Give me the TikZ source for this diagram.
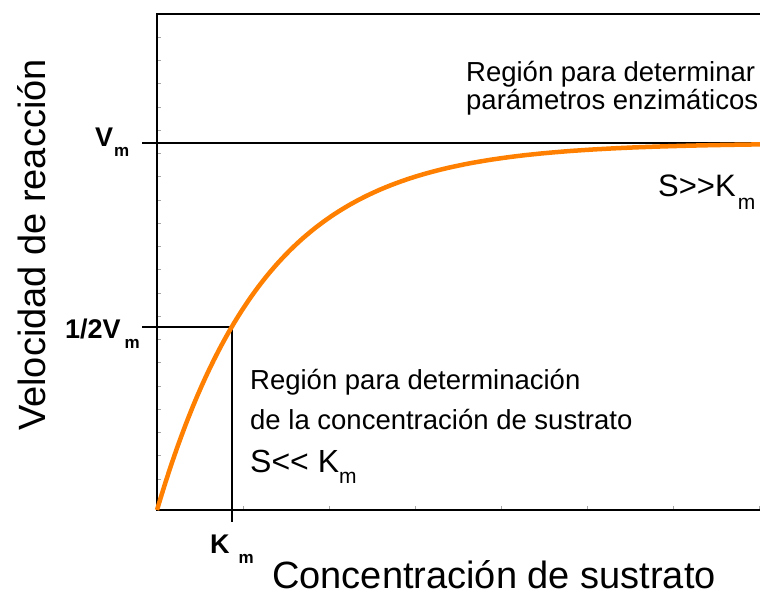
\documentclass[tikz,border=0pt]{standalone}
\usepackage{fontspec}
\setmainfont{Liberation Sans}
\definecolor{naranja}{RGB}{255,128,0}
\begin{document}
\begin{tikzpicture}[x=1pt, y=-1pt,
	eje/.style={line width=2pt},
	marca/.style={line width=0.7pt, gray!70},
	rotulo/.style={font=\fontsize{27}{27}\selectfont\bfseries, inner sep=0, anchor=base west},
	texto/.style={font=\fontsize{27.5}{27.5}\selectfont, inner sep=0, anchor=base west},
	sub/.style={font=\fontsize{31}{31}\selectfont, inner sep=0, anchor=base west},
	titulo/.style={font=\fontsize{38}{38}\selectfont, inner sep=0, anchor=base}]
	\useasboundingbox (0,0) rectangle (760,593);
	% frame and axes
	\coordinate (O) at (157,510);
	\coordinate (tl) at (157,14);
	\coordinate (tr) at (760,14);
	\coordinate (br) at (760,510);
	\coordinate (vmL) at (142,143);
	\coordinate (vmR) at (760,143);
	\coordinate (hvL) at (142,327);
	\coordinate (hvP) at (232,327);
	\coordinate (kmB) at (232,522);
	% faint minor ticks
	\foreach \k in {1,...,21} \draw[marca] (157,{14+23.25*\k}) -- ++(4,0);
	\foreach \k in {1,...,7} \draw[marca] ({157+86*\k},510) -- ++(0,-4);
	\draw[eje] (tr) -- (tl) -- (O) -- (br);
	% Vm and 1/2 Vm guides
	\draw[eje] (vmL) -- (vmR);
	\draw[eje] (hvL) -- (hvP) -- (kmB);
	% saturation curve
	\draw[line width=4.5pt, color=naranja, domain=0:603, samples=150] plot ({157+\x}, {510-367*(1-exp(-0.00924*\x))});
	% axis marks
	\node[rotulo] (vm) at (95,147) {V\kern1pt\raisebox{-10pt}{\fontsize{17}{17}\selectfont m}};
	\node[rotulo] (hvm) at (65,338) {1/2V\kern4pt\raisebox{-10pt}{\fontsize{17}{17}\selectfont m}};
	\node[rotulo] (km) at (210,553) {K\kern9pt\raisebox{-10pt}{\fontsize{17}{17}\selectfont m}};
	% regions
	\node[texto] (reg1a) at (466,82) {Región para determinar};
	\node[texto] (reg1b) at (466,110) {parámetros enzimáticos};
	\node[sub] (sgk) at (658,197) {S>{}>K\kern2pt\raisebox{-13pt}{\fontsize{21}{21}\selectfont m}};
	\node[texto] (reg2a) at (250,389) {Región para determinación};
	\node[texto] (reg2b) at (250,429) {de la concentración de sustrato};
	\node[sub, font=\fontsize{32}{32}\selectfont] (slk) at (250,472) {S<{}< K\raisebox{-11pt}{\fontsize{21}{21}\selectfont m}};
	% axis titles
	\node[titulo, rotate=90] (ytit) at (45,245) {Velocidad de reacción};
	\node[titulo, anchor=base west] (xtit) at (272,588) {Concentración de sustrato};
\end{tikzpicture}
\end{document}
